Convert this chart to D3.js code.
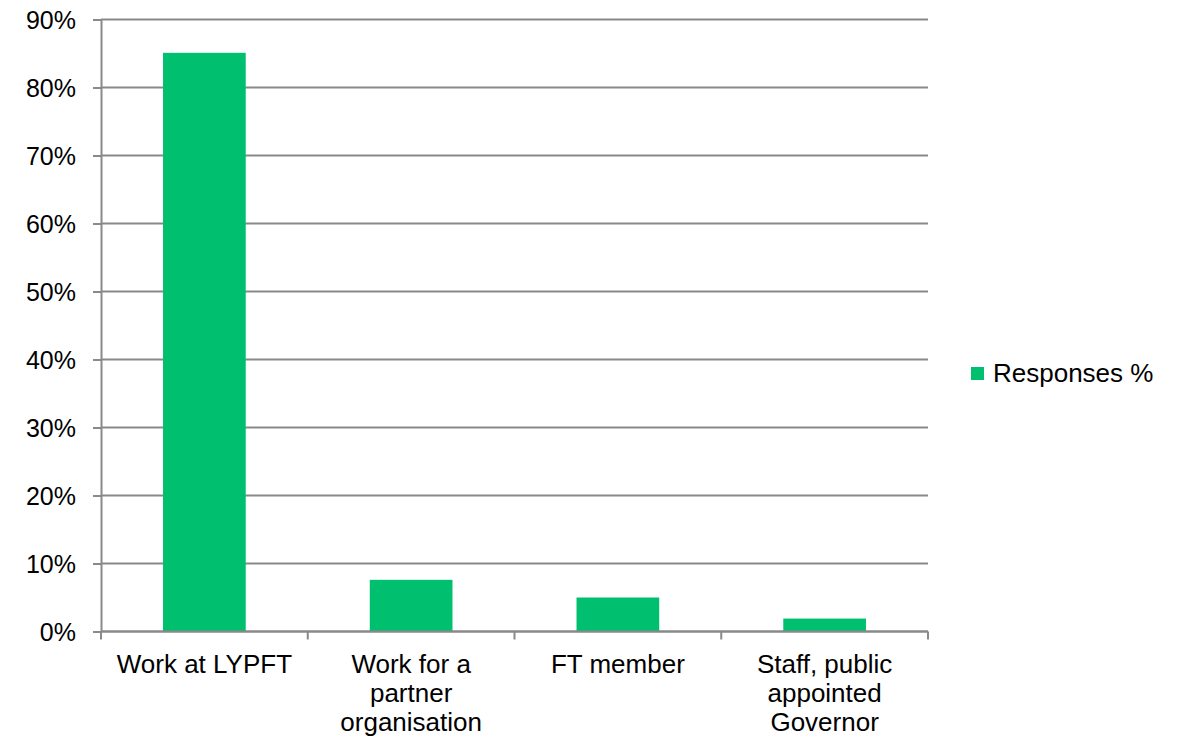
<!DOCTYPE html>
<html>
<head>
<meta charset="utf-8">
<script src="https://cdn.jsdelivr.net/npm/d3@7"></script>
<style>
  html, body { margin: 0; padding: 0; background: #fff; }
  svg { display: block; font-family: "Liberation Sans", Arial, sans-serif; }
</style>
</head>
<body>
<svg id="chart" width="1182" height="740"></svg>
<script>
// Survey respondents by relationship to the trust
const categories = ["Work at LYPFT", "Work for a partner organisation", "FT member", "Staff, public appointed Governor"];
const responses = [85.1, 7.6, 5.0, 1.9];
const yTicks = [0, 10, 20, 30, 40, 50, 60, 70, 80, 90];
const seriesName = "Responses %";

const svg = d3.select("#chart");
const margin = { left: 101, top: 19.5, right: 254, bottom: 108.5 };
const W = 1182, H = 740;
const innerW = W - margin.left - margin.right;
const innerH = H - margin.top - margin.bottom;

const gridColor = "#898989";
const barColor = "#00BF6F";

const g = svg.append("g").attr("transform", `translate(${margin.left},${margin.top})`);

const x = d3.scaleBand().domain(categories).range([0, innerW]).padding(0);
const y = d3.scaleLinear().domain([0, 90]).range([innerH, 0]);

// Horizontal gridlines
g.append("g").selectAll("line").data(yTicks).join("line")
  .attr("x1", 0).attr("x2", innerW)
  .attr("y1", d => y(d)).attr("y2", d => y(d))
  .attr("stroke", gridColor).attr("stroke-width", 2);

// Y axis
const yAxis = g.append("g")
  .call(d3.axisLeft(y).tickValues(yTicks).tickFormat(d => d + "%").tickSize(8).tickSizeOuter(0));
yAxis.select(".domain").attr("stroke", gridColor).attr("stroke-width", 2);
yAxis.selectAll(".tick line").attr("stroke", gridColor).attr("stroke-width", 2);
yAxis.selectAll(".tick text")
  .attr("x", -25).attr("dy", "0.36em")
  .attr("fill", "#000").style("font-size", "25px")
  .style("font-family", "'Liberation Sans', Arial, sans-serif");

// Bars (width 40% of category slot, centred)
const barW = x.bandwidth() * 0.4;
g.append("g").selectAll("rect").data(responses).join("rect")
  .attr("x", (d, i) => x(categories[i]) + (x.bandwidth() - barW) / 2)
  .attr("y", d => y(d))
  .attr("width", barW)
  .attr("height", d => innerH - y(d))
  .attr("fill", barColor);

// X axis line and boundary ticks
const xg = g.append("g").attr("transform", `translate(0,${innerH})`);
xg.append("line").attr("x1", 0).attr("x2", innerW).attr("y1", 0).attr("y2", 0)
  .attr("stroke", gridColor).attr("stroke-width", 2);
const bounds = categories.map(c => x(c)).concat([innerW]);
xg.selectAll("line.tick").data(bounds).join("line").attr("class", "tick")
  .attr("x1", d => d).attr("x2", d => d).attr("y1", 0).attr("y2", 8)
  .attr("stroke", gridColor).attr("stroke-width", 2);

// Category labels, wrapped to the slot width
const maxW = x.bandwidth() - 12;
categories.forEach(c => {
  const t = xg.append("text")
    .attr("x", x(c) + x.bandwidth() / 2)
    .attr("y", 41)
    .attr("text-anchor", "middle")
    .attr("fill", "#000")
    .style("font-size", "26px");
  const words = c.split(" ");
  let line = [];
  let lineNo = 0;
  let tspan = t.append("tspan").attr("x", x(c) + x.bandwidth() / 2).attr("dy", 0);
  words.forEach(w => {
    line.push(w);
    tspan.text(line.join(" "));
    if (tspan.node().getComputedTextLength() > maxW && line.length > 1) {
      line.pop();
      tspan.text(line.join(" "));
      line = [w];
      lineNo++;
      tspan = t.append("tspan").attr("x", x(c) + x.bandwidth() / 2).attr("dy", 29).text(w);
    }
  });
});

// Legend
const lg = svg.append("g").attr("transform", "translate(971,367)");
lg.append("rect").attr("width", 13).attr("height", 13).attr("fill", barColor);
lg.append("text").attr("x", 22).attr("y", 15).attr("fill", "#000")
  .style("font-size", "26px").text(seriesName);
</script>
</body>
</html>
